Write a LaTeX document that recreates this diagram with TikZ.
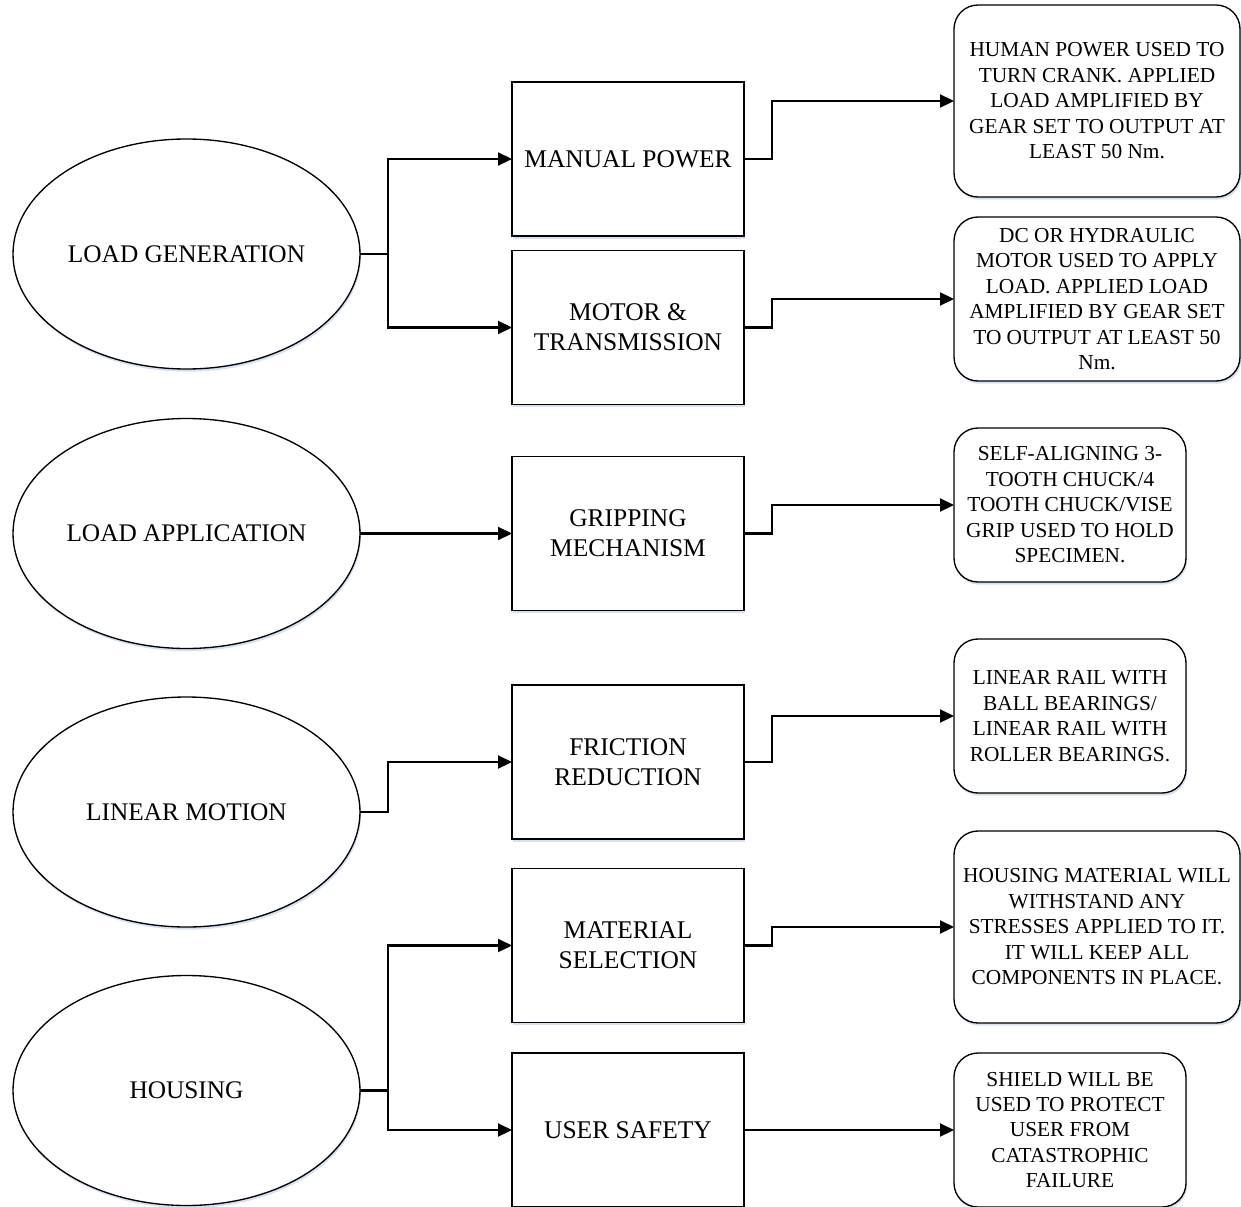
\documentclass[tikz,border=0pt]{standalone}
\usepackage{fontspec}
\setmainfont{Liberation Serif}
\usetikzlibrary{shapes.geometric,arrows.meta,shadows}
\definecolor{shadowblue}{RGB}{196,214,238}
\tikzset{
  shad/.style={drop shadow={shadow xshift=0.8pt, shadow yshift=-2pt, fill=shadowblue, opacity=0.7}},
  oval/.style={ellipse, draw=black, line width=1pt, fill=white, shad, inner sep=0pt, outer sep=0pt,
    minimum width=260.25pt, minimum height=172.5pt, font=\fontsize{19}{22.5}\selectfont},
  blockbox/.style={rectangle, draw=black, line width=1pt, fill=white, shad, inner sep=0pt, outer sep=0pt,
    minimum width=174pt, minimum height=115.5pt, align=center, font=\fontsize{19.1}{22.5}\selectfont},
  note/.style={rectangle, rounded corners=18pt, draw=black, line width=1pt, fill=white, shad, inner sep=0pt, outer sep=0pt,
    align=center, font=\fontsize{16}{19.1}\selectfont},
  wide/.style={note, minimum width=214.5pt},
  narrow/.style={note, minimum width=174pt},
  conn/.style={draw=black, line width=1.6pt, -{Triangle[length=10.5pt, width=9.75pt]}},
  plain/.style={draw=black, line width=1.6pt}
}
\begin{document}
\begin{tikzpicture}[x=0.75pt, y=-0.75pt]
\useasboundingbox (0,0) rectangle (1241,1206);

% ellipses
\node[oval] (e1) at (186.5,254) {LOAD GENERATION};
\node[oval] (e2) at (186.5,533.5) {LOAD APPLICATION};
\node[oval] (e3) at (186.5,812) {LINEAR MOTION};
\node[oval] (e4) at (186.5,1090.5) {HOUSING};

% boxes
\node[blockbox] (b1) at (628,159) {MANUAL POWER};
\node[blockbox] (b2) at (628,327.5) {MOTOR \&\\TRANSMISSION};
\node[blockbox] (b3) at (628,533.5) {GRIPPING\\MECHANISM};
\node[blockbox] (b4) at (628,762) {FRICTION\\REDUCTION};
\node[blockbox] (b5) at (628,945.5) {MATERIAL\\SELECTION};
\node[blockbox] (b6) at (628,1130) {USER SAFETY};

% notes
\node[wide, minimum height=144pt] (r1) at (1097,101) {HUMAN POWER USED TO\\TURN CRANK. APPLIED\\LOAD AMPLIFIED BY\\GEAR SET TO OUTPUT AT\\LEAST 50 Nm.};
\node[wide, minimum height=123pt] (r2) at (1097,299) {DC OR HYDRAULIC\\MOTOR USED TO APPLY\\LOAD. APPLIED LOAD\\AMPLIFIED BY GEAR SET\\TO OUTPUT AT LEAST 50\\Nm.};
\node[narrow, minimum height=115.5pt] (r3) at (1070,505) {SELF-ALIGNING 3-\\TOOTH CHUCK/4\\TOOTH CHUCK/VISE\\GRIP USED TO HOLD\\SPECIMEN.};
\node[narrow, minimum height=115.5pt] (r4) at (1070,716) {LINEAR RAIL WITH\\BALL BEARINGS/\\LINEAR RAIL WITH\\ROLLER BEARINGS.};
\node[wide, minimum height=144pt] (r5) at (1097,927) {HOUSING MATERIAL WILL\\WITHSTAND ANY\\STRESSES APPLIED TO IT.\\IT WILL KEEP ALL\\COMPONENTS IN PLACE.};
\node[narrow, minimum height=115.5pt] (r6) at (1070,1130) {SHIELD WILL BE\\USED TO PROTECT\\USER FROM\\CATASTROPHIC\\FAILURE};

% junctions
\coordinate (j1) at (388,254);
\coordinate (j3) at (388,812);
\coordinate (j4) at (388,1090.5);

% ellipse -> boxes
\draw[plain] (e1.east) -- (j1);
\draw[conn] (j1) |- (b1.west);
\draw[conn] (j1) |- (b2.west);
\draw[conn] (e2.east) -- (b3.west);
\draw[conn] (e3.east) -- (j3) |- (b4.west);
\draw[plain] (e4.east) -- (j4);
\draw[conn] (j4) |- (b5.west);
\draw[conn] (j4) |- (b6.west);

% boxes -> notes
\draw[conn] (b1.east) -- ++(28,0) |- (r1.west);
\draw[conn] (b2.east) -- ++(28,0) |- (r2.west);
\draw[conn] (b3.east) -- ++(28,0) |- (r3.west);
\draw[conn] (b4.east) -- ++(28,0) |- (r4.west);
\draw[conn] (b5.east) -- ++(28,0) |- (r5.west);
\draw[conn] (b6.east) -- (r6.west);
\end{tikzpicture}
\end{document}
